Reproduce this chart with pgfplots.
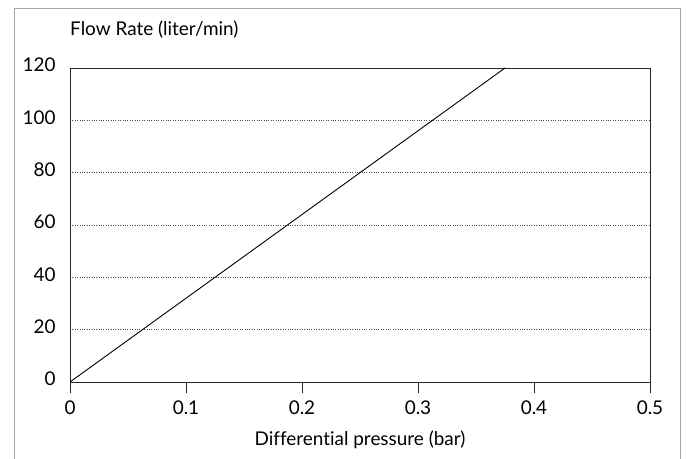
\documentclass[border=0pt]{standalone}
\usepackage{fontspec}
\setmainfont[Ligatures={NoCommon}]{Lato}
\usepackage{pgfplots}
\pgfplotsset{compat=1.18}
\begin{document}
\begin{tikzpicture}[x=1bp,y=1bp]
\useasboundingbox (-70,-77) rectangle (616,382);
\draw[gray!70, line width=1bp] (-55,-77) -- (-55,373) -- (610,373) -- (610,-77);
\begin{axis}[
  at={(0,0)}, anchor=south west,
  scale only axis, width=580bp, height=314bp,
  xmin=0, xmax=0.5, ymin=0, ymax=120,
  xtick={0,0.1,0.2,0.3,0.4,0.5},
  xticklabels={0,0.1,0.2,0.3,0.4,0.5},
  ytick={0,20,40,60,80,100,120},
  yticklabels={0,20,40,60,80,100,120},
  axis line style={black!85, line width=0.9bp},
  x tick style={black!85, line width=0.9bp},
  xtick pos=bottom, xtick align=outside, major tick length=11bp,
  y tick style={draw=none},
  ymajorgrids, grid style={black!70, dotted, line width=0.6bp},
  tick label style={font=\fontsize{19}{22}\selectfont},
  yticklabel style={xshift=-11bp, yshift=3bp},
  xticklabel style={yshift=-4bp},
  xlabel={Differential pressure (bar)},
  xlabel style={font=\fontsize{19}{22}\selectfont, yshift=-10bp},
  clip=true,
]
\addplot[black, line width=0.9bp] coordinates {(0,0) (0.375,120)};
\end{axis}
\node[anchor=base west, font=\fontsize{19}{22}\selectfont, inner sep=0] at (0,346) {Flow Rate (liter/min)};
\end{tikzpicture}
\end{document}
